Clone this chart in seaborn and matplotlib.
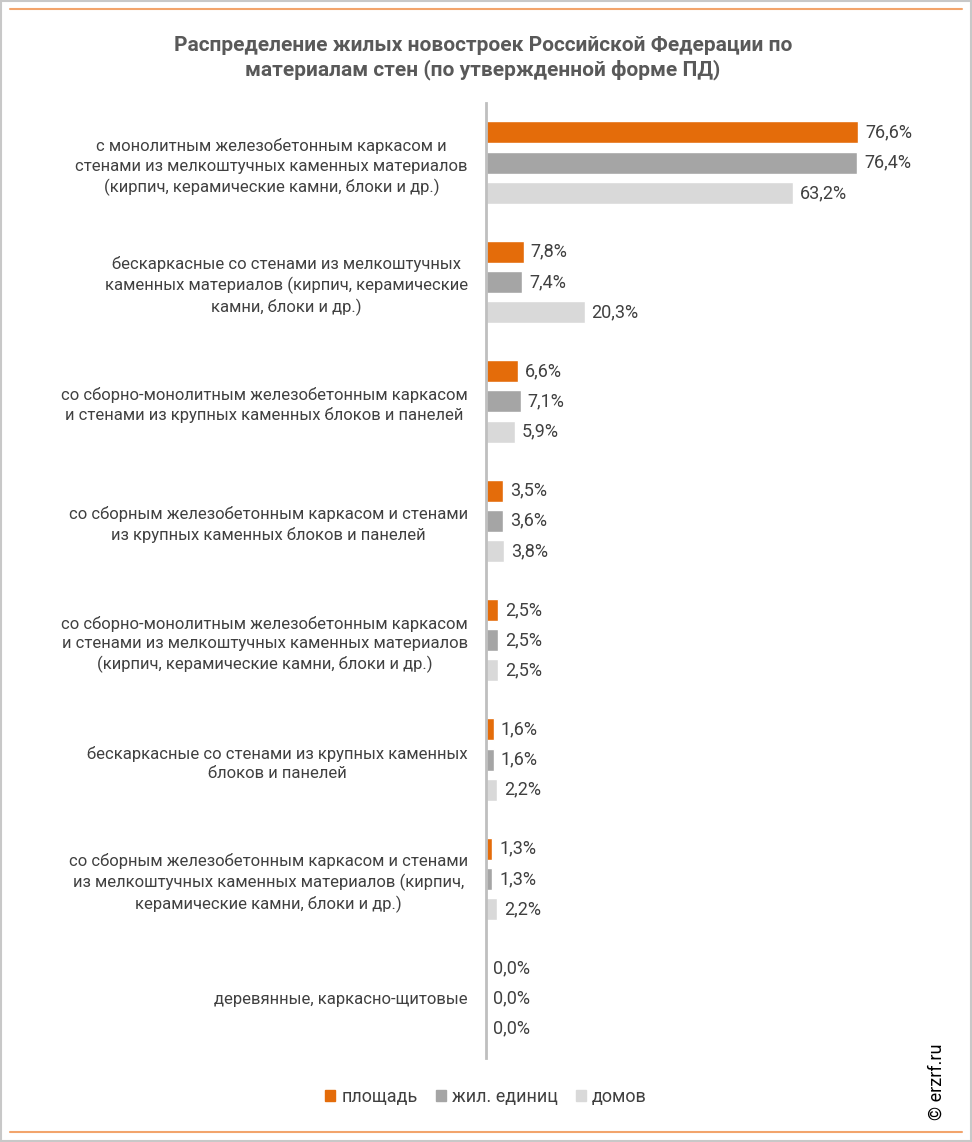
import pandas as pd
import matplotlib.pyplot as plt
import seaborn as sns
from matplotlib.lines import Line2D
from matplotlib.patches import Rectangle

# данные
categories = [
    "с монолитным железобетонным каркасом и\nстенами из мелкоштучных каменных материалов\n(кирпич, керамические камни, блоки и др.)",
    "бескаркасные со стенами из мелкоштучных\nкаменных материалов (кирпич, керамические\nкамни, блоки и др.)",
    "со сборно-монолитным железобетонным каркасом\nи стенами из крупных каменных блоков и панелей",
    "со сборным железобетонным каркасом и стенами\nиз крупных каменных блоков и панелей",
    "со сборно-монолитным железобетонным каркасом\nи стенами из мелкоштучных каменных материалов\n(кирпич, керамические камни, блоки и др.)",
    "бескаркасные со стенами из крупных каменных\nблоков и панелей",
    "со сборным железобетонным каркасом и стенами\nиз мелкоштучных каменных материалов (кирпич,\nкерамические камни, блоки и др.)",
    "деревянные, каркасно-щитовые",
]
series_names = ["площадь", "жил. единиц", "домов"]
area = [76.6, 7.8, 6.6, 3.5, 2.5, 1.6, 1.3, 0.0]
units = [76.4, 7.4, 7.1, 3.6, 2.5, 1.6, 1.3, 0.0]
houses = [63.2, 20.3, 5.9, 3.8, 2.5, 2.2, 2.2, 0.0]
colors = ["#E46C0A", "#A5A5A5", "#D9D9D9"]

df = pd.DataFrame({
    "cat": categories * 3,
    "series": [s for s in series_names for _ in categories],
    "value": area + units + houses,
})

sns.set_theme(style="white")
plt.rcParams["font.family"] = ["Roboto", "DejaVu Sans"]
text_color = "#404040"

fig = plt.figure(figsize=(9.72, 11.42), dpi=100)
W, H = 972, 1142
ax = fig.add_axes([486 / W, 1 - 1058 / H, 476 / W, (1058 - 103) / H])

sns.barplot(data=df, y="cat", x="value", hue="series", orient="h",
            palette=colors, width=0.76, gap=0.27, ax=ax, legend=False,
            saturation=1)

ax.set_xlim(0, 476 / 4.86)
ax.set_ylim(7.5, -0.5)
ax.set_xlabel("")
ax.set_ylabel("")
ax.set_xticks([])
for s in ["top", "right", "bottom"]:
    ax.spines[s].set_visible(False)
ax.spines["left"].set_color("#BFBFBF")
ax.spines["left"].set_linewidth(2)
ax.tick_params(axis="y", length=0, pad=13, labelsize=12, labelcolor=text_color)
for lbl in ax.get_yticklabels():
    lbl.set_multialignment("center")
    lbl.set_linespacing(1.35)

for cont in ax.containers:
    labels = [f"{v:.1f}".replace(".", ",") + "%" for v in cont.datavalues]
    ax.bar_label(cont, labels=labels, padding=5, fontsize=13, color=text_color)

fig.text(483 / W, 1 - 58 / H,
         "Распределение жилых новостроек Российской Федерации по\nматериалам стен (по утвержденной форме ПД)",
         ha="center", va="center", fontsize=15, fontweight="bold",
         color="#595959", linespacing=1.3)

handles = [Rectangle((0, 0), 1, 1, color=c) for c in colors]
fig.legend(handles, series_names, loc="center", bbox_to_anchor=(486 / W, 1 - 1097 / H),
           ncol=3, frameon=False, fontsize=13, handlelength=0.55, handleheight=0.55,
           handletextpad=0.35, columnspacing=1.0, labelcolor=text_color)

fig.text(937 / W, 1 - 1082 / H, "© erzrf.ru", rotation=90, ha="center", va="center",
         fontsize=13, color="#000000")

# рамка и оранжевые линии
fig.add_artist(Rectangle((0.001, 0.001), 0.998, 0.998, transform=fig.transFigure,
                         fill=False, edgecolor="#C8C8C8", linewidth=1.5))
fig.add_artist(Line2D([10 / W, 962 / W], [1 - 9 / H, 1 - 9 / H], transform=fig.transFigure,
                      color="#F2A46C", linewidth=1.5))
fig.add_artist(Line2D([10 / W, 962 / W], [1 - 1132 / H, 1 - 1132 / H], transform=fig.transFigure,
                      color="#F2A46C", linewidth=1.5))

fig.savefig("out.png", dpi=100)
